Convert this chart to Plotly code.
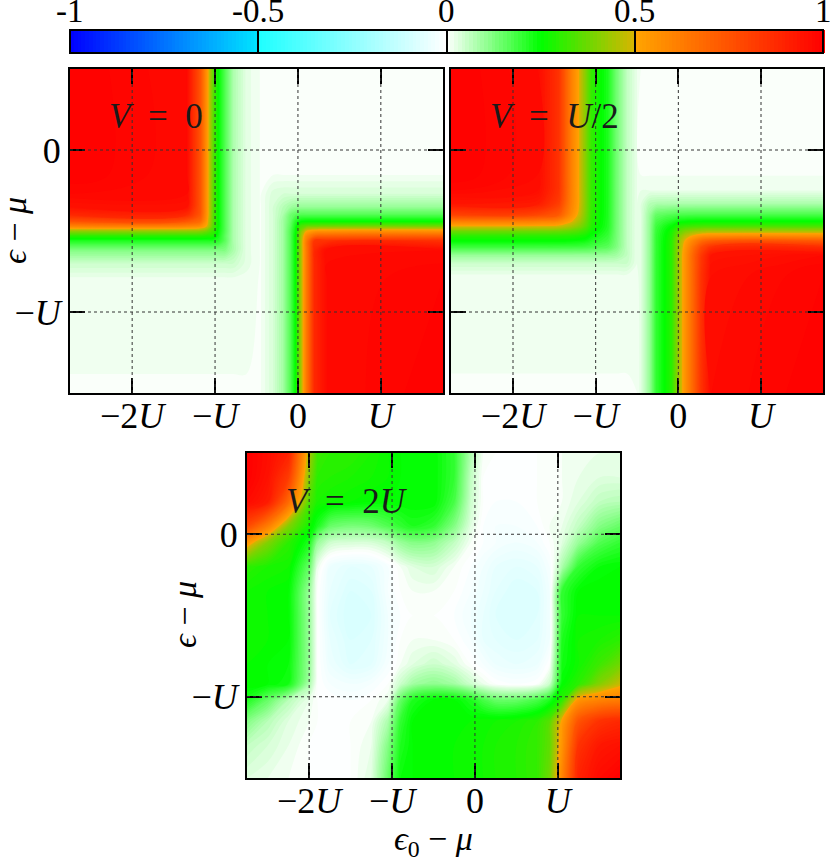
import plotly.graph_objects as go

# ---------------- data (energies in units of U) ----------------
BG = 0.009  # faint background level of the "white" areas
# Panel V = 0
X1 = [-2.75, -1.34, -1.18, -1.1, -1.02, -0.96, -0.88, -0.78, -0.62, -0.45, -0.3, -0.18, -0.09, -0.03, 0.03, 0.1, 0.2, 0.35, 1.75]
Y1 = [-1.5, -0.8, -0.7, -0.62, -0.56, -0.53, -0.5, -0.47, -0.44, -0.4, -0.35, -0.27, -0.15, 0.5]
Z1 = [
    [BG, BG, BG, BG, BG, BG, BG, BG, BG, BG, .04, .09, .17, .25, .42, .62, .88, .97, 1.0],
    [.015, .015, .015, .015, .015, .015, .015, .015, .015, BG, .04, .09, .17, .25, .42, .62, .88, .97, .99],
    [.05, .05, .05, .05, .05, .05, .05, .05, .025, BG, .04, .09, .17, .25, .42, .62, .88, .97, .98],
    [.12, .12, .12, .12, .12, .12, .12, .08, .025, BG, .04, .09, .17, .25, .42, .62, .88, .97, .97],
    [.22, .22, .22, .22, .22, .21, .16, .08, .025, BG, .04, .09, .17, .25, .42, .62, .84, .85, .85],
    [.3, .3, .3, .29, .28, .23, .16, .08, .025, BG, .04, .09, .17, .25, .41, .58, .68, .7, .7],
    [.42, .42, .41, .38, .32, .24, .17, .08, .025, BG, .04, .09, .17, .24, .38, .5, .54, .55, .55],
    [.6, .6, .57, .5, .34, .25, .17, .08, .025, BG, .04, .09, .16, .23, .33, .36, .37, .38, .38],
    [.75, .74, .68, .53, .35, .25, .17, .08, .025, BG, .04, .09, .15, .21, .24, .25, .25, .25, .25],
    [.88, .87, .74, .55, .35, .25, .17, .08, .025, BG, .04, .08, .14, .16, .17, .17, .17, .17, .17],
    [.95, .95, .75, .55, .35, .25, .17, .08, .025, BG, .04, .07, .09, .1, .1, .1, .1, .1, .1],
    [.98, .97, .75, .55, .35, .25, .17, .08, .025, BG, .035, .04, .04, .04, .04, .04, .04, .04, .04],
    [1.0, .97, .75, .55, .35, .25, .17, .08, .025, BG, BG, BG, BG, BG, BG, BG, BG, BG, BG],
    [1.0, .97, .75, .55, .35, .25, .17, .08, .025, BG, BG, BG, BG, BG, BG, BG, BG, BG, BG],
]

# Panel V = U/2
X2 = [-2.75, -1.7, -1.45, -1.3, -1.2, -1.12, -1.05, -0.95, -0.85, -0.75, -0.62, -0.5, -0.45, -0.35, -0.27, -0.17, -0.08, 0.0, 0.08, 0.17, 0.28, 0.4, 1.75]
Y2 = [-1.5, -0.78, -0.7, -0.65, -0.6, -0.56, -0.53, -0.5, -0.47, -0.44, -0.4, -0.33, -0.25, -0.15, 0.5]
Z2 = [
    [BG, BG, BG, BG, BG, BG, BG, BG, BG, BG, BG, BG, .03, .1, .2, .25, .3, .43, .55, .68, .85, .97, 1.0],
    [.015, .015, .015, .015, .015, .015, .015, .015, .015, .015, .015, .015, .03, .1, .2, .25, .3, .43, .55, .68, .85, .96, .99],
    [.05, .05, .05, .05, .05, .05, .05, .05, .05, .05, .05, .02, .03, .1, .2, .25, .3, .43, .55, .68, .84, .95, .98],
    [.1, .1, .1, .1, .1, .1, .1, .1, .097, .09, .06, .02, .03, .1, .2, .25, .3, .43, .55, .68, .83, .94, .97],
    [.19, .19, .19, .189, .187, .184, .178, .17, .161, .125, .06, .02, .03, .1, .199, .25, .299, .424, .535, .646, .775, .852, .87],
    [.25, .25, .249, .246, .241, .234, .218, .203, .185, .133, .06, .02, .03, .1, .2, .248, .296, .412, .507, .59, .671, .712, .72],
    [.3, .299, .298, .292, .283, .269, .243, .221, .197, .136, .06, .02, .03, .1, .199, .244, .289, .389, .458, .509, .55, .567, .57],
    [.38, .379, .376, .36, .341, .312, .27, .238, .208, .138, .06, .02, .03, .1, .195, .237, .276, .35, .391, .416, .432, .439, .44],
    [.5, .498, .488, .447, .405, .354, .291, .25, .215, .139, .06, .02, .03, .1, .188, .223, .25, .294, .312, .322, .328, .33, .33],
    [.62, .615, .592, .513, .447, .376, .301, .255, .217, .14, .06, .02, .03, .098, .175, .199, .215, .237, .244, .247, .249, .25, .25],
    [.8, .787, .729, .579, .481, .392, .307, .259, .219, .14, .06, .02, .03, .095, .15, .162, .169, .176, .178, .179, .18, .18, .18],
    [.94, .92, .817, .611, .5, .4, .31, .26, .22, .14, .06, .02, .03, .07, .078, .079, .08, .08, .08, .08, .08, .08, .08],
    [.98, .96, .85, .62, .5, .4, .31, .26, .22, .14, .06, .02, .02, .02, .02, .02, .02, .02, .02, .02, .02, .02, .02],
    [1.0, .97, .85, .62, .5, .4, .31, .26, .22, .14, .06, .02, BG, BG, BG, BG, BG, BG, BG, BG, BG, BG, BG],
    [1.0, .97, .85, .62, .5, .4, .31, .26, .22, .14, .06, .02, BG, BG, BG, BG, BG, BG, BG, BG, BG, BG, BG],
]

# Panel V = 2U
X3 = [-2.75, -2.5, -2.25, -2.0, -1.9, -1.75, -1.5, -1.25, -1.05, -0.9, -0.75, -0.5, -0.25, -0.05, 0.1, 0.25, 0.5, 0.75, 0.9, 1.05, 1.25, 1.5, 1.75]
Y3 = [-1.5, -1.3, -1.15, -1.02, -0.92, -0.8, -0.65, -0.5, -0.35, -0.2, -0.05, 0.05, 0.2, 0.35, 0.5]
Z3 = [
    [.03, .02, .01, 0, 0, 0, 0, .03, .15, .24, .25, .26, .26, .27, .27, .28, .29, .31, .38, .6, .9, .97, 1.0],
    [.06, .04, .02, 0, 0, 0, 0, .02, .12, .22, .25, .26, .26, .27, .27, .28, .29, .31, .36, .55, .85, .93, .95],
    [.12, .07, .03, .01, 0, 0, 0, .01, .08, .2, .25, .26, .26, .26, .27, .27, .28, .3, .35, .52, .75, .85, .88],
    [.22, .15, .07, .02, 0, 0, -.01, 0, .02, .15, .22, .25, .25, .22, .18, .15, .15, .18, .22, .3, .55, .6, .62],
    [.26, .25, .23, .08, 0, -.02, -.03, -.02, 0, .05, .09, .11, .09, .05, .02, 0, -.01, 0, .05, .25, .3, .4, .48],
    [.26, .25, .24, .1, 0, -.04, -.07, -.06, -.02, .01, .03, .05, .03, 0, -.02, -.04, -.05, -.04, 0, .23, .27, .32, .38],
    [.27, .26, .25, .1, 0, -.05, -.08, -.07, -.03, 0, .01, .01, 0, -.02, -.05, -.06, -.07, -.06, -.03, .22, .27, .28, .3],
    [.27, .26, .25, .1, 0, -.06, -.09, -.08, -.03, -.01, 0, 0, -.01, -.03, -.05, -.07, -.08, -.07, -.03, .2, .26, .26, .26],
    [.27, .26, .25, .1, 0, -.05, -.08, -.07, -.02, 0, .01, .01, 0, -.02, -.04, -.06, -.08, -.07, -.03, .2, .25, .26, .26],
    [.3, .28, .27, .15, .02, -.04, -.06, -.05, -.02, .01, .03, .04, .01, -.01, -.03, -.05, -.06, -.05, -.02, .08, .2, .24, .25],
    [.55, .4, .3, .22, .1, .05, .04, .04, .06, .1, .12, .11, .06, .01, -.01, -.02, -.03, -.02, 0, .03, .1, .17, .2],
    [.78, .62, .4, .27, .22, .15, .13, .14, .17, .2, .22, .2, .12, .03, -.01, -.02, -.02, -.01, .01, .02, .06, .12, .15],
    [.97, .92, .68, .34, .28, .27, .26, .25, .25, .25, .25, .25, .18, .05, 0, -.01, -.01, 0, .01, .01, .03, .06, .07],
    [1.0, .95, .82, .4, .3, .29, .28, .27, .26, .25, .25, .25, .2, .06, 0, -.005, 0, 0, .005, .01, .02, .03, .03],
    [1.0, .96, .9, .45, .32, .3, .3, .28, .26, .25, .25, .25, .2, .08, .01, 0, 0, 0, .005, .01, .015, .02, .02],
]

PANEL_LABELS = ["<i>V</i>\u2002=\u20020", "<i>V</i>\u2002=\u2002<i>U</i>/2", "<i>V</i>\u2002=\u20022<i>U</i>"]
X_TICKS = [-2, -1, 0, 1]
X_TICKTEXT = ["\u22122<i>U</i>", "\u2212<i>U</i>", "0", "<i>U</i>"]
Y_TICKS = [-1, 0]
Y_TICKTEXT = ["\u2212<i>U</i>", "0"]
CB_TICKS = [-1, -0.5, 0, 0.5, 1]
CB_TICKTEXT = ["-1", "-0.5", "0", "0.5", "1"]
X_RANGE = [-2.75, 1.75]
Y_RANGE = [-1.5, 0.5]

# ---------------- styling ----------------
W, H = 830, 861
FONT = "Liberation Serif, DejaVu Serif, serif"
CS = [[0.0, '#0000ff'], [0.25, '#00e5ff'], [0.25, '#1effff'], [0.5, '#ffffff'],
      [0.625, '#00ff00'], [0.75, '#d8b400'], [0.75, '#ffa500'], [1.0, '#ff0000']]

CB_L, CB_R, CB_T, CB_B = 70, 823, 29, 52
CB_SHIFT = 13  # empirical offset of plotly's horizontal colourbar anchor


def px_x(p):
    return p / W


def px_y(p):
    return 1 - p / H


fig = go.Figure()
panels = [(X1, Y1, Z1, 'x', 'y'), (X2, Y2, Z2, 'x2', 'y2'), (X3, Y3, Z3, 'x3', 'y3')]
for k, (xs, ys, zs, xa, ya) in enumerate(panels):
    fig.add_trace(go.Contour(
        x=xs, y=ys, z=zs, xaxis=xa, yaxis=ya,
        colorscale=CS, zmin=-1, zmax=1, autocontour=False,
        contours=dict(start=-1, end=1, size=0.01, coloring='fill', showlines=False),
        line=dict(width=0, smoothing=1.0), hoverinfo='skip',
        showscale=(k == 0),
        colorbar=dict(orientation='h', x=px_x((CB_L + CB_R) / 2), xanchor='center',
                      y=px_y((CB_T + CB_B) / 2 + CB_SHIFT), yanchor='middle',
                      len=(CB_R - CB_L) / W, lenmode='fraction',
                      thickness=CB_B - CB_T, thicknessmode='pixels',
                      outlinewidth=2, outlinecolor='black', xpad=0, ypad=0,
                      tickmode='array', tickvals=[-0.5, 0, 0.5], ticks='inside',
                      ticklen=CB_B - CB_T, tickwidth=2, tickcolor='black',
                      showticklabels=False),
    ))

domains = {
    'x': [px_x(70), px_x(443)], 'y': [px_y(393), px_y(69)],
    'x2': [px_x(451), px_x(823)], 'y2': [px_y(393), px_y(69)],
    'x3': [px_x(247), px_x(620)], 'y3': [px_y(778), px_y(453)],
}

axis_common = dict(ticks='inside', ticklen=15, tickwidth=2, tickcolor='black',
                   showline=True, linewidth=2, linecolor='black', mirror='ticks',
                   showgrid=False, zeroline=False,
                   tickfont=dict(family=FONT, size=36, color='black'))

layout_axes = {}
for name, yname in [('x', 'y'), ('x2', 'y2'), ('x3', 'y3')]:
    xkey = 'xaxis' + name[1:]
    ykey = 'yaxis' + yname[1:]
    layout_axes[xkey] = dict(axis_common, domain=domains[name], range=X_RANGE, anchor=yname,
                             tickmode='array', tickvals=X_TICKS, ticktext=X_TICKTEXT,
                             ticklabelstandoff=-10)
    layout_axes[ykey] = dict(axis_common, domain=domains[yname], range=Y_RANGE, anchor=name,
                             tickmode='array', tickvals=Y_TICKS, ticktext=Y_TICKTEXT,
                             showticklabels=(yname != 'y2'))

shapes = []
for xa, ya in [('x', 'y'), ('x2', 'y2'), ('x3', 'y3')]:
    for v in X_TICKS:
        shapes.append(dict(type='line', xref=xa, yref=ya + ' domain', x0=v, x1=v, y0=0, y1=1,
                           line=dict(color='#333333', width=1, dash='dot'), layer='above'))
    for v in Y_TICKS:
        shapes.append(dict(type='line', xref=xa + ' domain', yref=ya, x0=0, x1=1, y0=v, y1=v,
                           line=dict(color='#333333', width=1, dash='dot'), layer='above'))

annotations = []
# panel labels
for lab, xa, ya in zip(PANEL_LABELS, ['x', 'x2', 'x3'], ['y', 'y2', 'y3']):
    annotations.append(dict(text=lab, xref=xa + ' domain', yref=ya + ' domain', x=0.1, y=0.852,
                            xanchor='left', yanchor='middle', showarrow=False,
                            font=dict(family=FONT, size=35, color='#1a1a1a')))
# axis titles
YT = "<i>\u03f5</i> \u2212 <i>\u03bc</i>"
annotations.append(dict(text=YT, xref='paper', yref='paper', x=px_x(14), y=px_y(231), textangle=-90,
                        xanchor='center', yanchor='middle', showarrow=False,
                        font=dict(family=FONT, size=34, color='black')))
annotations.append(dict(text=YT, xref='paper', yref='paper', x=px_x(184), y=px_y(615), textangle=-90,
                        xanchor='center', yanchor='middle', showarrow=False,
                        font=dict(family=FONT, size=34, color='black')))
annotations.append(dict(text="<i>\u03f5</i><sub>0</sub> \u2212 <i>\u03bc</i>", xref='paper', yref='paper',
                        x=px_x(433), y=px_y(841), xanchor='center', yanchor='middle', showarrow=False,
                        font=dict(family=FONT, size=34, color='black')))
# colourbar labels
for v, t in zip(CB_TICKS, CB_TICKTEXT):
    xp = CB_L + (v - CB_TICKS[0]) / (CB_TICKS[-1] - CB_TICKS[0]) * (CB_R - CB_L)
    annotations.append(dict(text=t, xref='paper', yref='paper', x=px_x(xp), y=px_y(11),
                            xanchor='center', yanchor='middle', showarrow=False,
                            font=dict(family=FONT, size=33, color='black')))

fig.update_layout(width=W, height=H, margin=dict(l=0, r=0, t=0, b=0),
                  paper_bgcolor='white', plot_bgcolor='white', showlegend=False,
                  shapes=shapes, annotations=annotations, **layout_axes)

fig.write_html("out.html", config={'displayModeBar': False},
               post_script="document.body.style.margin='0px';document.body.style.padding='0px';")
